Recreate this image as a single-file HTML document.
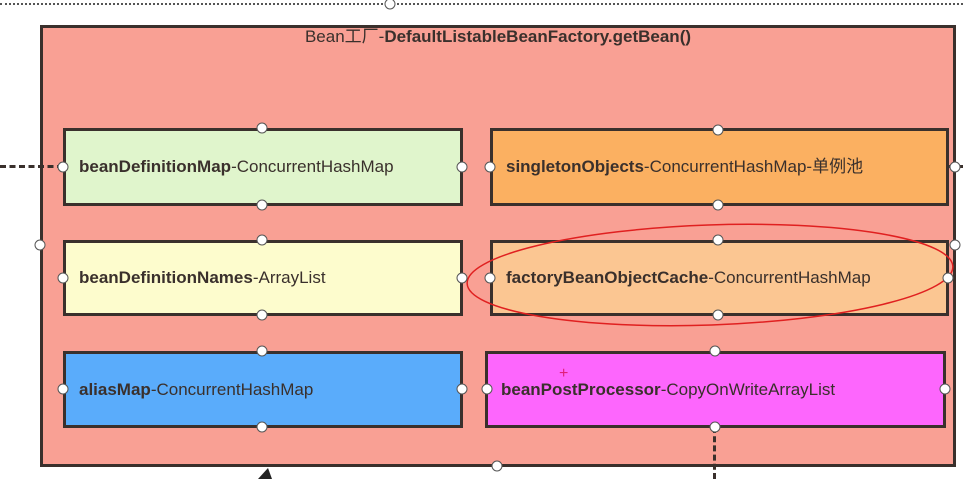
<!DOCTYPE html>
<html><head><style>
body{margin:0;width:963px;height:479px;background:#fff;overflow:hidden;position:relative;font-family:"Liberation Sans","Noto Sans CJK SC",sans-serif;}
.b{position:absolute;border:3px solid #3a302c;box-sizing:border-box;font-size:17px;color:#3a302c;display:flex;align-items:center;padding-left:13px;white-space:nowrap}
.b span{display:block;line-height:20px}
.b b{font-weight:bold}
.h{position:absolute;width:9px;height:9px;border:1px solid #555;border-radius:50%;background:#fff;transform:translate(-5.5px,-5.5px)}
</style></head><body>
<div style="position:absolute;left:0;top:3px;width:963px;border-top:2px dotted #555"></div>
<div style="position:absolute;left:40px;top:25px;width:916px;height:442px;background:#f9a094;border:3px solid #3a302c;box-sizing:border-box"></div>
<div style="position:absolute;left:40px;top:27px;width:916px;text-align:center;font-size:17px;line-height:20px;color:#3a302c">Bean工厂-<b>DefaultListableBeanFactory.getBean()</b></div>
<div style="position:absolute;left:0;top:165px;width:63px;border-top:3px dashed #3a302c"></div>
<div style="position:absolute;left:948px;top:165px;width:15px;border-top:3px dashed #3a302c"></div>
<div style="position:absolute;left:713px;top:427px;height:52px;border-left:3px dashed #3a302c"></div>
<div class="b" style="left:63px;top:128px;width:400px;height:78px;background:#e0f5cc"><span><b>beanDefinitionMap</b>-ConcurrentHashMap</span></div>
<div class="b" style="left:490px;top:128px;width:459px;height:78px;background:#fbb061"><span><b>singletonObjects</b>-ConcurrentHashMap-单例池</span></div>
<div class="b" style="left:63px;top:240px;width:400px;height:76px;background:#fdfccd"><span><b>beanDefinitionNames</b>-ArrayList</span></div>
<div class="b" style="left:490px;top:240px;width:459px;height:76px;background:#fbc692"><span><b>factoryBeanObjectCache</b>-ConcurrentHashMap</span></div>
<div class="b" style="left:63px;top:351px;width:400px;height:77px;background:#5aacfb"><span><b>aliasMap</b>-ConcurrentHashMap</span></div>
<div class="b" style="left:485px;top:351px;width:461px;height:77px;background:#fd66fd"><span><b>beanPostProcessor</b>-CopyOnWriteArrayList</span></div>
<svg style="position:absolute;left:0;top:0" width="963" height="479">
<ellipse cx="710" cy="275" rx="243" ry="50" fill="none" stroke="#e02020" stroke-width="1.5" transform="rotate(-2 710 275)"/>
<polygon points="258,479 272,479 268,468" fill="#222"/>
<text x="559" y="378" fill="#e0207a" font-size="16">+</text>
</svg>
<div class="h" style="left:390px;top:4px"></div>
<div class="h" style="left:262px;top:128px"></div><div class="h" style="left:262px;top:205px"></div><div class="h" style="left:63px;top:167px"></div><div class="h" style="left:462px;top:167px"></div>
<div class="h" style="left:718px;top:130px"></div><div class="h" style="left:718px;top:205px"></div><div class="h" style="left:490px;top:167px"></div><div class="h" style="left:955px;top:167px"></div>
<div class="h" style="left:262px;top:240px"></div><div class="h" style="left:262px;top:315px"></div><div class="h" style="left:63px;top:278px"></div><div class="h" style="left:462px;top:278px"></div>
<div class="h" style="left:718px;top:240px"></div><div class="h" style="left:718px;top:315px"></div><div class="h" style="left:490px;top:278px"></div><div class="h" style="left:948px;top:278px"></div>
<div class="h" style="left:262px;top:351px"></div><div class="h" style="left:262px;top:427px"></div><div class="h" style="left:63px;top:389px"></div><div class="h" style="left:462px;top:389px"></div>
<div class="h" style="left:715px;top:351px"></div><div class="h" style="left:715px;top:427px"></div><div class="h" style="left:487px;top:389px"></div><div class="h" style="left:945px;top:389px"></div>
<div class="h" style="left:40px;top:245px"></div><div class="h" style="left:955px;top:245px"></div><div class="h" style="left:497px;top:466px"></div>
</body></html>
